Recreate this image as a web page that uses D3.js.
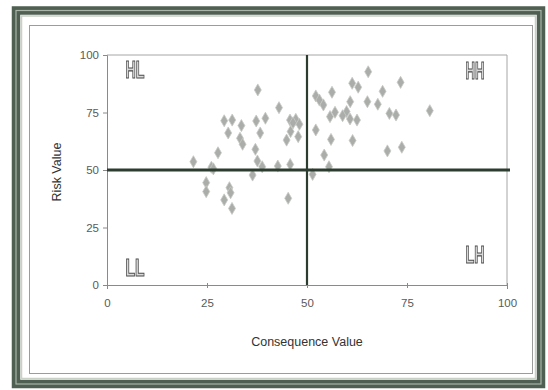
<!DOCTYPE html>
<html><head><meta charset="utf-8">
<script src="https://cdn.jsdelivr.net/npm/d3@7"></script>
<style>body{margin:0;background:#fff}svg{display:block}</style>
</head><body>
<script>
// Data
const consequence = [37.7,43,29.3,31.3,37.3,39.6,33.6,30.3,38.3,45.75,47.2,48.1,45.9,47.8,44.9,33.25,33.9,37.1,27.75,37.6,38.8,21.6,26.1,26.6,42.7,45.8,36.4,
  24.8,24.8,30.6,30.9,29.3,31.25,45.3,
  65.3,73.4,61.3,62.8,68.9,56.25,52.2,53.1,54.1,60.8,65.1,67.7,57,59.9,55.75,58.9,60.75,62.5,70.6,72.25,80.7,52.2,56,61.4,70.1,73.7,54.3,55.5,51.4,46.5];
const risk = [84.8,77.1,71.4,71.7,71.3,72.5,69.3,66.1,66.1,71.7,72,69.9,66.7,64.5,63,63.8,61.2,59,57.5,53.9,51.4,53.6,51.2,50.5,51.7,52.4,47.8,
  44.5,40.6,42.3,40.1,37,33.3,37.7,
  92.7,88.1,87.7,86,84.2,83.8,82.2,80.4,78.3,79.7,79.7,78.6,75.1,75.4,73.2,73.6,72.2,71.7,74.6,73.9,75.8,67.4,63.3,62.8,58.3,59.9,56.5,51.4,48.1,70.5];
const xTicks = [0,25,50,75,100];
const yTicks = [0,25,50,75,100];
const quadrants = [
  {label:"HL", x:7, y:92.5},
  {label:"HH", x:92, y:92},
  {label:"LL", x:7, y:6.5},
  {label:"LH", x:92, y:12}
];
const xTitle = "Consequence Value";
const yTitle = "Risk Value";

const W = 548, H = 390;
const svg = d3.select("body").append("svg").attr("width", W).attr("height", H);
const defs = svg.append("defs");
defs.append("filter").attr("id","gray").append("feColorMatrix").attr("type","saturate").attr("values",0);

// frame
svg.append("rect").attr("x",16).attr("y",10.5).attr("width",525).attr("height",373.5)
  .attr("fill","none").attr("stroke","#4f5f52").attr("stroke-width",8.5);
svg.append("rect").attr("x",16).attr("y",10.5).attr("width",525).attr("height",373.5)
  .attr("fill","none").attr("stroke","#a9b5a8").attr("stroke-width",1.2);
svg.append("rect").attr("x",21.5).attr("y",16).attr("width",514).attr("height",362.5)
  .attr("fill","#fff").attr("stroke","#c9d0c6").attr("stroke-width",1.5);
svg.append("rect").attr("x",29.5).attr("y",25.5).attr("width",503).attr("height",348)
  .attr("fill","#fff").attr("stroke","#9c9c9c").attr("stroke-width",1);

const x = d3.scaleLinear().domain([0,100]).range([107,507]);
const y = d3.scaleLinear().domain([0,100]).range([285,55]);

// plot border (top/right)
svg.append("path").attr("d",`M${x(0)},${y(100)}H${x(100)}V${y(0)}`)
  .attr("fill","none").attr("stroke","#a6a6a6").attr("stroke-width",1);

const font = "'Liberation Sans', Arial, sans-serif";
const xAxis = svg.append("g").attr("transform",`translate(0,${y(0)})`)
  .call(d3.axisBottom(x).tickValues(xTicks).tickSize(4).tickPadding(10));
const yAxis = svg.append("g").attr("transform",`translate(${x(0)},0)`)
  .call(d3.axisLeft(y).tickValues(yTicks).tickSize(4).tickPadding(4));
[xAxis,yAxis].forEach(g=>{
  g.select(".domain").attr("stroke","#8a8a8a");
  g.selectAll(".tick line").attr("stroke","#8a8a8a");
  g.selectAll("text").attr("fill","#5a5a5a").style("font-family",font).style("font-size","11.5px");
});
xAxis.selectAll(".tick line").attr("y1",-2).attr("y2",3);

// points
const diamond = d3.symbol().type(d3.symbolDiamond).size(42);
svg.append("g").selectAll("path").data(consequence).join("path")
  .attr("transform",(d,i)=>`translate(${x(d)},${y(risk[i])})`)
  .attr("d",diamond).attr("fill","#aaada9").attr("stroke","#c6c9c4").attr("stroke-width",0.8);

// quadrant lines
svg.append("line").attr("x1",x(0)).attr("x2",x(100)+3).attr("y1",y(50)).attr("y2",y(50))
  .attr("stroke","#2c3d2f").attr("stroke-width",3);
svg.append("line").attr("x1",x(50)).attr("x2",x(50)).attr("y1",y(100)).attr("y2",y(0))
  .attr("stroke","#2c3d2f").attr("stroke-width",2.2);

// quadrant labels
svg.append("g").attr("filter","url(#gray)").selectAll("text").data(quadrants).join("text")
  .attr("x",d=>x(d.x)).attr("y",d=>y(d.y)).attr("text-anchor","middle").attr("dominant-baseline","middle")
  .attr("textLength",19).attr("lengthAdjust","spacingAndGlyphs")
  .style("font-family",font).style("font-size","23px").style("font-weight","bold")
  .attr("fill","#d6dbd3").attr("stroke","#3d4b3e").attr("stroke-width",1.1)
  .text(d=>d.label);

// titles
svg.append("text").attr("x",307).attr("y",346).attr("text-anchor","middle")
  .style("font-family",font).style("font-size","12.5px").attr("fill","#333").text(xTitle);
svg.append("text").attr("transform","translate(61,172) rotate(-90)").attr("text-anchor","middle")
  .style("font-family",font).style("font-size","12.5px").attr("fill","#333").text(yTitle);
</script>
</body></html>
